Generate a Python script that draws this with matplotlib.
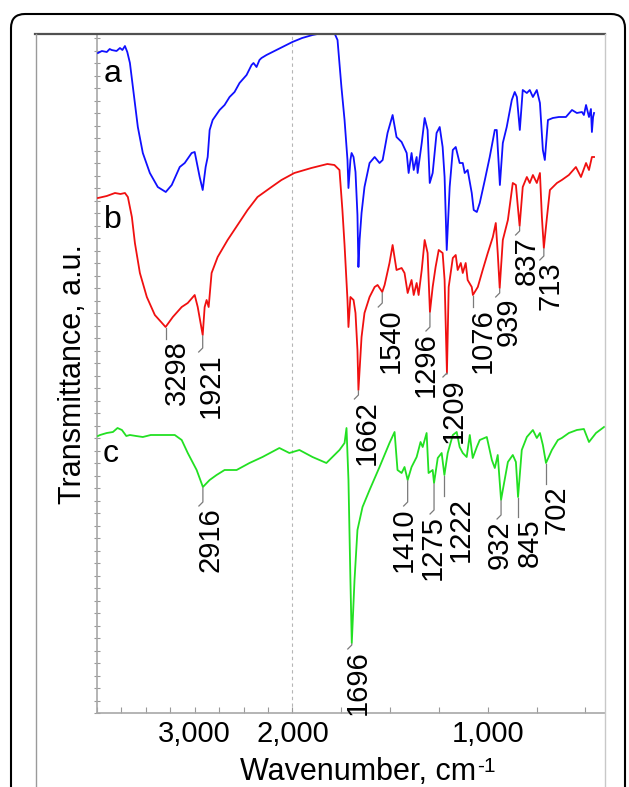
import numpy as np
import matplotlib
matplotlib.use('Agg')
import matplotlib.pyplot as plt
from matplotlib.transforms import IdentityTransform
from matplotlib.lines import Line2D
from matplotlib.patches import FancyBboxPatch
from matplotlib.ticker import FixedLocator, FixedFormatter

plt.rcParams['font.family'] = ['Liberation Sans', 'DejaVu Sans']

# ---------------- data (wavenumber cm-1, transmittance a.u.) ----------------
wn_a = [3990, 3950, 3900, 3870, 3850, 3800, 3765, 3740, 3714, 3690, 3663, 3612, 3582, 3531, 3459,
        3378, 3296, 3235, 3153, 3102, 3031, 3000, 2949, 2918, 2888, 2867, 2847, 2816, 2745, 2694,
        2643, 2592, 2541, 2469, 2418, 2398, 2367, 2337, 2316, 2265, 2204, 2102, 2000, 1950, 1897,
        1846, 1785, 1769, 1749, 1733, 1718, 1713, 1703,
        1697, 1687, 1677, 1667, 1662, 1656, 1646, 1631, 1605, 1579, 1554, 1538, 1513, 1487, 1467,
        1441, 1415, 1405, 1390, 1379, 1364, 1359, 1338, 1323, 1308, 1297, 1282, 1262, 1246, 1231,
        1221, 1210, 1195, 1179, 1164, 1144, 1128, 1118, 1103, 1082, 1072, 1056, 1041, 1015, 990,
        964, 954, 938, 923, 903, 877, 862, 851, 836, 821, 800, 785, 769, 749, 733,
        718, 708, 692, 667, 636, 600, 569, 544, 518, 508, 497, 487, 482, 472, 467, 461, 456]
t_a = [660, 662, 661, 664, 663, 662, 665, 663, 667, 661, 650, 610, 586, 560, 540,
       526, 521, 528, 546, 550, 560, 561, 536, 523, 546, 556, 583, 593, 603, 608,
       616, 621, 630, 638, 648, 650, 646, 653, 655, 658, 661, 666, 671, 675, 678,
       680, 680, 673, 626, 593, 553, 525, 553,
       560, 556, 541, 498, 446, 473, 500, 526, 550, 556, 550, 553, 580, 598, 576,
       571, 560, 540, 560, 543, 556, 540, 570, 595, 583, 530, 540, 580, 586, 566,
       536, 463, 526, 563, 566, 550, 550, 540, 543, 520, 503, 501, 510, 533, 556,
       583, 583, 528, 570, 586, 613, 621, 616, 583, 623, 620, 623, 616, 623, 610,
       563, 553, 593, 595, 596, 596, 603, 600, 601, 598, 608, 600, 596, 604, 581, 596, 600]

wn_b = [3990, 3900, 3816, 3760, 3714, 3684, 3643, 3612, 3561, 3490, 3408, 3298, 3224, 3133, 3071,
        3000, 2969, 2918, 2898, 2878, 2857, 2827, 2765, 2663, 2561, 2459, 2357, 2214, 2112, 1990,
        1903, 1821, 1785, 1759, 1744, 1733, 1718, 1713, 1703, 1687, 1677, 1667, 1662, 1646, 1631,
        1605, 1579, 1564, 1540, 1528, 1503, 1487, 1467, 1441, 1426, 1410, 1390, 1379, 1364, 1354,
        1338, 1323, 1308, 1296, 1282, 1267, 1251, 1231, 1221, 1209, 1200, 1179, 1164, 1154, 1138,
        1128, 1113, 1103, 1082, 1076, 1051, 1026, 1000, 974, 959, 949, 939, 923, 897, 872,
        856, 846, 837, 821, 800, 785, 769, 749, 733, 723, 713, 697, 682, 646, 621,
        585, 549, 523, 497, 482, 467, 456]
t_b = [515, 517, 520, 519, 520, 516, 496, 470, 440, 416, 398, 386, 396, 406, 410,
       418, 406, 378, 406, 413, 406, 440, 456, 473, 488, 503, 516, 526, 533, 540,
       545, 549, 548, 543, 503, 468, 413, 386, 416, 413, 400, 363, 323, 376, 400,
       416, 426, 428, 421, 428, 450, 468, 443, 445, 440, 420, 433, 418, 430, 418,
       443, 473, 460, 401, 426, 446, 463, 460, 433, 340, 426, 455, 458, 443, 450,
       440, 450, 433, 426, 418, 426, 443, 460, 476, 490, 460, 425, 473, 493, 530,
       528, 506, 487, 526, 536, 530, 538, 530, 540, 496, 465, 496, 523, 530, 533,
       538, 546, 536, 550, 543, 556, 556]

wn_c = [3990, 3969, 3900, 3837, 3790, 3745, 3700, 3663, 3600, 3531, 3450, 3357, 3204, 3133, 3071,
        2980, 2916, 2847, 2776, 2694, 2571, 2439, 2306, 2133, 2031, 1964, 1897, 1826, 1759, 1733,
        1723, 1713, 1703, 1696, 1682, 1667, 1641, 1605, 1554, 1503, 1477, 1462, 1441, 1426, 1410,
        1390, 1364, 1344, 1333, 1313, 1303, 1282, 1275, 1256, 1236, 1222, 1205, 1179, 1159, 1144,
        1128, 1108, 1092, 1077, 1056, 1041, 1005, 979, 964, 949, 932, 923, 897, 872, 856,
        845, 826, 800, 769, 749, 733, 718, 702, 672, 641, 621, 585, 544, 508, 482,
        446, 405]
t_c = [277, 278, 280, 281, 285, 283, 277, 278, 277, 276, 278, 278, 278, 273, 260,
       243, 226, 233, 238, 243, 243, 250, 256, 265, 260, 263, 256, 250, 263, 270,
       285, 233, 133, 70, 133, 183, 206, 223, 246, 270, 281, 243, 240, 246, 233,
       246, 256, 271, 266, 280, 240, 243, 230, 255, 260, 238, 260, 278, 281, 266,
       260, 256, 278, 255, 266, 273, 276, 253, 245, 258, 213, 223, 251, 258, 251,
       216, 263, 276, 283, 275, 280, 268, 250, 263, 273, 275, 280, 283, 284, 271,
       280, 286]

# peak annotations: position on the curve (cm-1) and printed text
peaks_b_pos = [3298, 2918, 1662, 1540, 1296, 1209, 1076, 939, 837, 713]
peaks_b_txt = ['3298', '1921', '1662', '1540', '1296', '1209', '1076', '939', '837', '713']
peaks_c_pos = [2916, 1696, 1410, 1275, 1222, 932, 845, 702]
peaks_c_txt = ['2916', '1696', '1410', '1275', '1222', '932', '845', '702']

# label layout (pixels): horizontal shift of text, gap below the peak
lay_b = [(11, 13), (8, 18), (8, 10), (8, 16), (-4, 20), (7, 5), (10, 13), (9, 10), (7, 10), (7, 13)]
lay_c = [(8, 20), (6, 7), (-4, 27), (-1, 32), (16, 22), (-1, 20), (12, 21), (11, 22)]

xticks_major = [3000, 2000, 1000]
xtick_labels = ['3,000', '2,000', '1,000']

# ---------------- figure ----------------
W, H = 629, 787
fig = plt.figure(figsize=(W / 100, H / 100), dpi=100)
ax = fig.add_axes([97 / W, (H - 713) / H, (605 - 97) / W, (713 - 34) / H])


def fwd(w):
    w = np.asarray(w, float)
    return np.where(w > 2000, 2000 + (w - 2000) * 0.5, w)


def inv(p):
    p = np.asarray(p, float)
    return np.where(p > 2000, 2000 + (p - 2000) * 2.0, p)


ax.set_xscale('function', functions=(fwd, inv))
ax.set_xlim(4000, 400)
ax.set_ylim(0, 679)

ax.axvline(2000, color='#b5b5b5', lw=0.8, ls=(0, (3, 3)), zorder=1)

ax.plot(wn_a, t_a, color='#1010ff', lw=1.3, zorder=3)
ax.plot(wn_b, t_b, color='#f01010', lw=1.3, zorder=3)
ax.plot(wn_c, t_c, color='#22e022', lw=1.3, zorder=3)

ax.xaxis.set_major_locator(FixedLocator(xticks_major))
ax.xaxis.set_major_formatter(FixedFormatter(xtick_labels))
ax.xaxis.set_minor_locator(FixedLocator([v for v in np.arange(500, 4001, 250) if v not in xticks_major]))
ax.tick_params(axis='x', which='both', direction='in', length=4, width=0.8, color='#999999',
               labelsize=21, pad=5)
ax.set_yticks(np.arange(0, 679, 12.5))
ax.tick_params(axis='y', which='both', direction='inout', length=4, width=0.8, color='#999999',
               labelleft=False)
for s in ('top', 'right'):
    ax.spines[s].set_visible(False)
for s in ('left', 'bottom'):
    ax.spines[s].set_color('#a8a8a8')
    ax.spines[s].set_linewidth(1.2)

ID = IdentityTransform()


def annotate(wn, tt, pos_list, txt_list, lay):
    xs_r = np.asarray(wn[::-1], float)
    ys_r = np.asarray(tt[::-1], float)
    for p, t, (dx, gap) in zip(pos_list, txt_list, lay):
        y0 = np.interp(p, xs_r, ys_r)
        X, Y = ax.transData.transform((p, y0))
        kink = -4 if dx < 10 else 0
        fig.add_artist(Line2D([X, X, X + kink], [Y - 1, Y - gap + 5, Y - gap + 1],
                              transform=ID, color='#7a7a7a', lw=0.9))
        fig.text(X + dx, Y - gap, t, transform=ID, rotation=90, ha='center', va='top',
                 fontsize=21, color='black')


annotate(wn_b, t_b, peaks_b_pos, peaks_b_txt, lay_b)
annotate(wn_c, t_c, peaks_c_pos, peaks_c_txt, lay_c)

# curve letters
fig.text(104, H - 82, 'a', transform=ID, fontsize=23, ha='left', va='baseline')
fig.text(104, H - 228, 'b', transform=ID, fontsize=23, ha='left', va='baseline')
fig.text(103, H - 462, 'c', transform=ID, fontsize=23, ha='left', va='baseline')

# axis titles
fig.text(73, H - 374, 'Transmittance, a.u.', transform=ID, rotation=90, ha='center', va='center',
         fontsize=22)
t1 = fig.text(240, H - 780, 'Wavenumber, cm', transform=ID, ha='left', va='baseline', fontsize=22)
r = fig.canvas.get_renderer()
bb = t1.get_window_extent(r)
fig.text(bb.x1 + 1, H - 772, '-1', transform=ID, ha='left', va='baseline', fontsize=15)

# frames
fig.add_artist(Line2D([35, 605], [H - 33.5, H - 33.5], transform=ID, color='#505050', lw=1.6))
fig.add_artist(Line2D([36, 36], [H - 33.5, -5], transform=ID, color='#9a9a9a', lw=1.0))
fig.add_artist(Line2D([605, 605], [H - 33.5, -5], transform=ID, color='#c8c8c8', lw=1.0))
fig.add_artist(FancyBboxPatch((11, -60), 614, H - 14 + 60, boxstyle='round,pad=0,rounding_size=14',
                              transform=ID, fill=False, ec='black', lw=1.5))

fig.savefig('out.png', dpi=100)
